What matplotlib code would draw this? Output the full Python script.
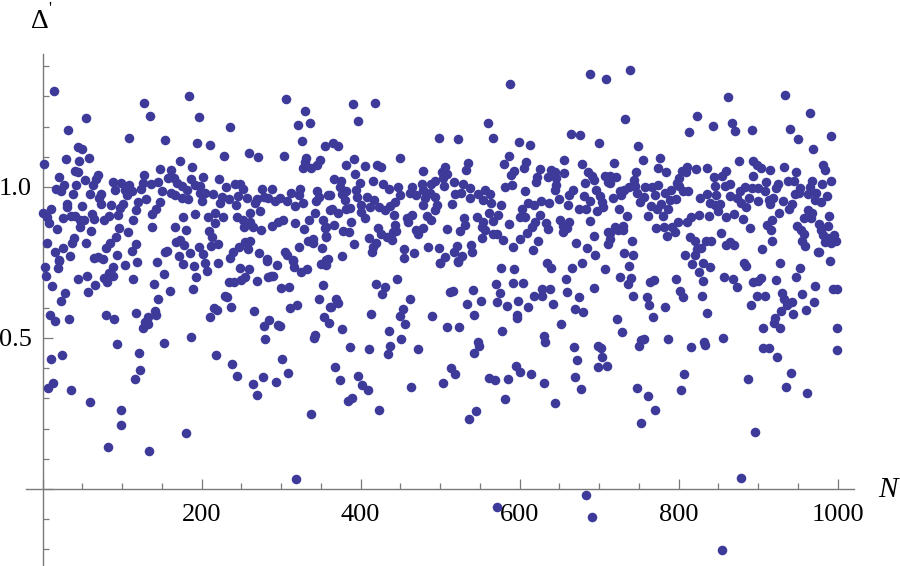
import matplotlib
matplotlib.use("Agg")
import matplotlib.pyplot as plt
import numpy as np

left_upper = [(14,1.317),(2,1.076),(54,1.227),(32,1.187),(45,1.131),(50,1.127),(29,1.093),(46,1.085),(58,1.097),(41,1.054),(44,1.051),(20,1.033),(53,1.024),(70,1.039),(67,1.025),(63,1.007),(42,1.006),(27,1.006),(17,.992),(23,.985),(38,.977),(59,.977),(73,.977),(71,.962),(73,.944),(30,.945),(31,.933),(49,.936),(10,.927),(1,.915),(5,.902),(8,.880),(26,.896),(36,.904),(41,.904),(47,.891),(52,.891),(47,.866),(18,.860),(62,.909),(65,.893),(61,.853),(77,.889),(83,.904),(86,.940),(95,.907),(97,.929),(101,.945),(113,.892),(117,.923),(120,.949),(130,.960),(147,.951),(143,.926),(137,.911),(138,.869),(88,1.015),(91,.990),(99,1.012),(104,.990),(108,1.006),(110,.985),(106,.974),(112,.985),(124,.993),(126,1.012),(128,1.040),(136,1.009),(145,1.018),(148,1.058),(161,1.056),(157,1.029),(165,1.029),(150,.986),(162,.979),(169,1.012),(173,1.086),(188,1.067),(186,1.025),(202,1.034),(222,1.026),(230,.999),(242,1.009),(248,1.010),(252,.993),(175,1.003),(181,.990),(192,1.006),(198,1.003),(198,.979),(204,.979),(214,.976),(200,.955),(166,.973),(175,.962),(183,.960),(223,.946),(226,.968),(234,.960),(243,.940),(246,.970),(257,.965),(227,.902),(217,.915),(208,.902),(217,.880),(192,.911),(176,.900),(167,.868),(180,.858),(209,.854),(213,.833),(168,.819),(173,.825),(178,.807),(212,.806),(220,.811),(197,.801),(202,.779),(185,.781),(171,.773),(156,.788),(154,.784),(118,.811),(112,.789),(107,.850),(96,.863),(92,.835),(85,.813),(80,.797),(55,.814),(39,.830),(37,.814),(6,.816),(15,.786),(25,.797),(21,.758),(34,.772),(64,.764),(70,.769),(76,.760),(93,.775),(109,1.163),(127,1.279),(135,1.236),(154,1.155),(184,1.301),(196,1.231),(194,1.145),(211,1.140),(235,1.200),(228,1.103),(260,1.113),(271,1.100),(303,1.103),(306,1.291),(330,1.251),(321,1.206),(336,1.213),(326,1.153),(355,1.136),(331,1.095),(330,1.084),(349,1.089),(345,1.073),(338,1.062),(327,1.062),(261,.913),(273,.921),(267,.946),(269,.960),(276,.993),(278,.968),(289,.992),(284,.963),(292,.954),(299,.965),(307,.955),(312,.979),(317,.938),(324,.993),(322,.973),(328,.946),(345,.985),(347,.968),(344,.955),(359,.974),(361,.924),(342,.913),(353,.891),(335,.889),(356,.866),(318,.880),(329,.862),(302,.889),(296,.883),(288,.871),(275,.857),(264,.866),(261,.885),(252,.891),(244,.900),(253,.866),(357,.835),(334,.821),(340,.827),(340,.813),(323,.800),(351,.799),(305,.783),(307,.775),(272,.781),(261,.821),(255,.817),(258,.794),(247,.802),(239,.785),(236,.765),(282,.761),(315,.758),(357,.758)]

left_lower = [(3,.736),(4,.705),(20,.755),(19,.731),(12,.673),(44,.696),(56,.706),(28,.650),(23,.621),(57,.652),(66,.674),(77,.698),(81,.684),(80,.698),(83,.714),(88,.705),(88,.736),(103,.742),(114,.695),(119,.753),(140,.680),(144,.753),(153,.713),(160,.657),(145,.628),(177,.745),(190,.738),(193,.701),(189,.662),(204,.749),(207,.723),(221,.748),(248,.733),(259,.728),(255,.703),(250,.692),(241,.684),(234,.685),(270,.688),(283,.702),(287,.705),(290,.706),(295,.743),(282,.756),(300,.666),(310,.669),(315,.756),(316,.734),(325,.717),(333,.730),(350,.744),(357,.742),(352,.675),(348,.628),(361,.604),(354,.568),(360,.549),(9,.576),(16,.556),(33,.562),(80,.575),(90,.564),(118,.584),(132,.571),(141,.589),(142,.575),(129,.554),(133,.545),(126,.532),(94,.479),(121,.450),(152,.482),(187,.503),(229,.640),(232,.637),(215,.598),(219,.591),(237,.602),(210,.571),(266,.590),(311,.598),(320,.610),(285,.560),(279,.538),(280,.496),(296,.542),(298,.538),(343,.509),(341,.499),(11,.429),(24,.445),(123,.393),(116,.365),(13,.350),(7,.334),(36,.328),(60,.288),(99,.262),(98,.211),(82,.140),(134,.126),(180,.187),(218,.443),(238,.415),(245,.373),(264,.347),(269,.311),(277,.372),(294,.355),(309,.384),(301,.429),(337,.249),(319,.032)]

middle_upper = [(390,1.276),(418,1.279),(397,1.220),(588,1.342),(689,1.374),(708,1.356),(560,1.213),(499,1.161),(523,1.158),(566,1.161),(599,1.150),(613,1.138),(664,1.176),(676,1.172),(700,1.147),(365,1.147),(372,1.136),(449,1.096),(392,1.093),(381,1.074),(406,1.068),(421,1.074),(425,1.066),(393,1.043),(367,1.026),(375,1.020),(399,1.014),(416,1.021),(428,1.010),(436,.993),(447,.999),(479,1.054),(506,1.065),(502,1.051),(509,1.042),(503,1.029),(505,1.003),(517,1.015),(493,1.021),(488,1.010),(477,1.009),(465,1.001),(535,1.078),(532,1.056),(529,1.009),(537,.996),(519,.976),(526,.979),(537,.962),(548,.977),(556,.990),(563,.977),(554,.957),(564,.948),(576,.939),(515,.945),(587,1.103),(580,1.075),(608,1.081),(605,1.062),(593,1.054),(589,1.040),(582,.999),(590,1.007),(607,.985),(625,1.058),(622,1.034),(620,1.015),(639,1.056),(644,1.051),(656,1.047),(636,1.034),(646,1.029),(646,1.007),(645,.990),(656,1.088),(678,1.077),(686,1.051),(691,1.036),(694,1.023),(707,1.036),(711,1.018),(682,1.014),(667,.990),(662,.974),(649,.959),(661,.941),(681,.971),(688,.953),(675,.928),(683,.926),(696,.990),(701,.971),(704,.951),(705,.933),(697,.920),(688,.887),(610,.948),(618,.940),(627,.955),(637,.947),(603,.928),(601,.902),(607,.902),(626,.906),(619,.885),(615,.869),(609,.849),(633,.882),(635,.860),(651,.891),(662,.883),(654,.871),(659,.863),(655,.852),(693,.838),(671,.816),(685,.797),(695,.774),(711,.850),(711,.810),(623,.822),(617,.791),(600,.827),(592,.802),(579,.825),(571,.844),(566,.844),(586,.877),(573,.907),(566,.887),(561,.913),(546,.902),(554,.885),(552,.869),(557,.858),(552,.830),(530,.897),(531,.874),(525,.854),(509,.861),(539,.808),(540,.784),(521,.805),(517,.786),(527,.773),(522,.755),(506,.769),(500,.749),(498,.797),(485,.802),(362,.974),(374,.999),(382,.985),(377,.977),(380,.957),(394,.990),(395,.968),(408,.966),(417,.957),(412,.933),(401,.941),(401,.918),(405,.896),(388,.883),(387,.929),(382,.927),(364,.926),(371,.915),(366,.874),(355,.865),(356,.836),(378,.854),(385,.850),(391,.812),(377,.772),(359,.760),(410,.830),(419,.813),(415,.802),(414,.786),(422,.863),(426,.844),(433,.833),(439,.825),(443,.874),(444,.854),(441,.852),(442,.907),(458,.896),(465,.907),(460,.885),(470,.858),(479,.863),(472,.844),(483,.905),(489,.891),(493,.924),(496,.940),(493,.968),(487,.979),(479,.990),(481,.962),(479,.941),(470,.974),(462,.979),(449,.974),(443,.951),(437,.937),(431,.924),(423,.935),(455,.794),(454,.766),(467,.780)]

middle_lower = [(369,.629),(371,.615),(363,.604),(377,.531),(386,.471),(411,.464),(419,.680),(431,.670),(427,.647),(446,.694),(462,.630),(453,.595),(450,.574),(413,.579),(456,.545),(435,.523),(451,.498),(437,.475),(434,.448),(472,.462),(368,.405),(374,.361),(396,.373),(402,.344),(409,.328),(389,.302),(384,.292),(423,.260),(463,.337),(490,.573),(508,.536),(524,.536),(512,.653),(516,.657),(500,.747),(522,.753),(541,.658),(534,.611),(551,.621),(542,.576),(548,.487),(549,.472),(543,.451),(514,.401),(519,.381),(503,.351),(545,.259),(536,.232),(562,.366),(569,.360),(585,.364),(581,.299),(595,.406),(601,.386),(614,.382),(631,.352),(644,.285),(576,.731),(593,.728),(570,.680),(591,.683),(604,.683),(575,.648),(572,.620),(584,.607),(598,.624),(611,.602),(578,.522),(596,.576),(597,.565),(618,.640),(628,.661),(628,.640),(638,.662),(642,.614),(634,.747),(640,.733),(666,.733),(679,.749),(707,.728),(658,.694),(659,.653),(694,.667),(674,.634),(670,.597),(680,.587),(652,.547),(630,.508),(632,.488),(668,.469),(672,.427),(670,.372),(677,.331),(699,.474),(702,.466),(703,.436),(698,.405),(710,.406),(683,-.019),(691,-.092),(571,-.060)]

right_upper = [(739,1.387),(862,1.298),(934,1.304),(823,1.235),(965,1.246),(867,1.211),(843,1.203),(813,1.182),(871,1.185),(892,1.187),(940,1.193),(950,1.159),(991,1.168),(733,1.225),(969,1.125),(749,1.137),(755,1.088),(776,1.097),(719,1.078),(876,1.087),(894,1.085),(898,1.073),(904,1.062),(915,1.056),(933,1.067),(947,1.051),(982,1.074),(984,1.056),(992,1.021),(893,1.035),(910,1.018),(925,1.009),(922,.996),(937,1.020),(945,1.020),(968,1.021),(980,1.010),(952,.998),(965,1.001),(963,.977),(973,.979),(986,.969),(971,.957),(979,.951),(946,.976),(951,.979),(810,1.067),(804,1.054),(809,1.049),(822,1.061),(835,1.062),(844,1.034),(859,1.053),(854,1.036),(846,1.003),(858,1.004),(864,1.009),(801,1.029),(798,1.012),(801,1.004),(812,.987),(806,.985),(784,1.051),(774,1.062),(746,1.049),(744,1.023),(745,1.003),(737,1.001),(721,1.034),(714,1.036),(713,1.014),(726,.988),(731,.990),(718,.962),(728,.974),(748,.981),(758,1.001),(766,1.001),(774,1.007),(770,.974),(783,.981),(790,.990),(797,.959),(789,.957),(751,.951),(756,.968),(765,.938),(778,.944),(773,.926),(786,.927),(725,.926),(735,.903),(761,.905),(780,.905),(781,.869),(772,.863),(799,.885),(792,.869),(795,.850),(785,.836),(811,.885),(815,.902),(826,.907),(838,.904),(827,.965),(836,.976),(847,.973),(840,.946),(852,.944),(846,.940),(850,.922),(865,.970),(873,.962),(877,.985),(884,1.001),(892,.998),(900,.996),(909,.988),(888,.962),(879,.946),(885,.932),(900,.955),(913,.957),(919,.962),(915,.944),(931,.954),(943,.943),(939,.926),(926,.914),(869,.911),(859,.902),(881,.894),(918,.889),(911,.874),(916,.858),(890,.865),(963,.924),(968,.915),(958,.898),(966,.898),(989,.903),(988,.872),(976,.876),(979,.858),(949,.872),(954,.858),(958,.843),(955,.822),(959,.805),(982,.841),(996,.841),(998,.822),(984,.819),(992,.813),(988,.830),(917,.822),(905,.795),(975,.786),(977,.783),(990,.754),(927,.748),(953,.731),(853,.848),(865,.819),(860,.808),(870,.808),(814,.833),(821,.822),(834,.820),(841,.821),(828,.799),(823,.795),(820,.775),(808,.776),(817,.744),(830,.747),(839,.736),(882,.747),(885,.738),(741,.822),(714,.828),(720,.869),(730,.872),(724,.858),(730,.858),(714,.849),(731,.780),(742,.776),(738,.738)]

right_lower = [(726,.702),(740,.699),(736,.680),(764,.685),(769,.693),(797,.695),(743,.639),(760,.636),(763,.609),(783,.603),(768,.570),(802,.657),(805,.635),(829,.639),(831,.690),(825,.719),(857,.701),(868,.695),(873,.669),(894,.684),(900,.690),(904,.699),(922,.691),(948,.702),(898,.639),(909,.639),(891,.610),(930,.648),(932,.629),(936,.609),(942,.618),(955,.646),(972,.671),(970,.620),(960,.591),(944,.578),(929,.589),(921,.565),(920,.549),(928,.532),(906,.533),(994,.663),(999,.663),(999,.534),(999,.461),(836,.583),(856,.501),(832,.488),(833,.477),(815,.470),(787,.498),(757,.498),(753,.493),(750,.475),(722,.563),(729,.521),(906,.466),(913,.467),(924,.438),(941,.384),(935,.338),(961,.317),(887,.364),(807,.381),(803,.327),(747,.334),(762,.308),(770,.262),(753,.219),(896,.189),(878,.038),(854,-.201)]

x_major = [0, 200, 400, 600, 800, 1000]
x_labels = ["", "200", "400", "600", "800", "1000"]
y_major = [0, 0.5, 1.0]
y_labels = ["", "0.5", "1.0"]
x_minor = [50, 100, 150, 250, 300, 350, 450, 500, 550, 650, 700, 750, 850, 900, 950]
y_minor = [-0.2, -0.1, 0.1, 0.2, 0.3, 0.4, 0.6, 0.7, 0.8, 0.9, 1.1, 1.2, 1.3, 1.4]

pts = np.array(left_upper + left_lower + middle_upper + middle_lower + right_upper + right_lower)

plt.rcParams['font.family'] = ['Liberation Serif', 'DejaVu Serif']
fig = plt.figure(figsize=(9, 5.66), dpi=100)
ax = fig.add_axes([0, 0, 1, 1])
ax.set_xlim(-53.7, 1078.4)
ax.set_ylim(-0.255, 1.619)
ax.patch.set_visible(False)

ax.plot(pts[:, 0], pts[:, 1], 'o', color='#3d3a9a', ms=6.9, mew=0, zorder=3, clip_on=False)

grey = '#7a7a7a'
for s in ['top', 'right']:
    ax.spines[s].set_visible(False)
ax.spines['left'].set_position(('data', 0))
ax.spines['bottom'].set_position(('data', 0))
ax.spines['left'].set_bounds(-0.252, 1.44)
ax.spines['bottom'].set_bounds(-21, 1021)
for s in ['left', 'bottom']:
    ax.spines[s].set_color(grey)
    ax.spines[s].set_linewidth(1.0)

ax.set_xticks(x_major, x_labels)
ax.set_yticks(y_major, y_labels)
ax.set_xticks(x_minor, minor=True)
ax.set_yticks(y_minor, minor=True)
ax.tick_params(which='both', color=grey, width=0.9, direction='in')
ax.tick_params(which='major', length=7.5, labelsize=19)
ax.tick_params(which='minor', length=4.5)
ax.tick_params(axis='x', which='major', pad=11)
ax.tick_params(axis='y', which='major', pad=8)

ax.text(888 / 900, 1 - 490 / 566, 'N', transform=ax.transAxes, fontsize=21, style='italic', ha='center', va='center')
ax.text(40 / 900, 1 - 21 / 566, 'Δ', transform=ax.transAxes, fontsize=20, ha='center', va='center')
ax.text(50 / 900, 1 - 9 / 566, "'", transform=ax.transAxes, fontsize=12, ha='center', va='center')

fig.savefig('out.png', dpi=100)
